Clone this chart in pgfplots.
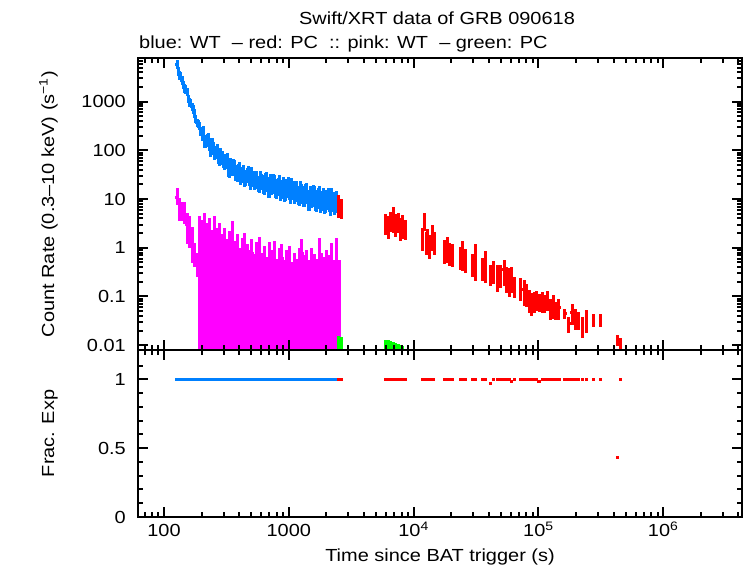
\documentclass[border=0pt]{standalone}
\usepackage{pgfplots}
\pgfplotsset{compat=1.18}
\usepackage{pgfplotstable}
\usepackage{fontspec}
\setmainfont{Liberation Sans}[FakeStretch=1.14]

\definecolor{wtblue}{RGB}{0,128,255}
\definecolor{pcred}{RGB}{255,0,0}
\definecolor{wtpink}{RGB}{255,0,255}
\definecolor{pcgreen}{RGB}{0,255,0}

% WT source light curve: time, rate, relative half bin, relative error, exposure fraction
\pgfplotstableread{
t r dx dy f
127.4 5888 0.03 0.20 1
130.3 4305 0.03 0.20 1
133.4 3491 0.03 0.20 1
136.5 3443 0.03 0.20 1
139.6 2754 0.03 0.20 1
142.9 2265 0.03 0.20 1
146.2 1928 0.03 0.20 1
149.6 1803 0.03 0.20 1
153.1 1611 0.03 0.20 1
156.7 1159 0.03 0.20 1
160.3 988.6 0.03 0.20 1
164.1 955 0.03 0.20 1
167.9 792.5 0.03 0.20 1
171.8 711 0.03 0.20 1
175.8 588.8 0.03 0.20 1
179.9 452 0.03 0.20 1
184.1 375.8 0.03 0.20 1
188.4 352 0.03 0.20 1
192.8 325.8 0.03 0.20 1
197.2 252 0.03 0.20 1
201.8 228.0 0.03 0.30 1
206.5 239 0.03 0.30 1
211.3 162.2 0.03 0.30 1
216.3 161 0.03 0.30 1
221.3 167.1 0.03 0.30 1
226.5 177 0.03 0.30 1
231.7 138.0 0.03 0.30 1
237.1 107 0.03 0.30 1
242.7 138.0 0.03 0.30 1
248.3 113 0.03 0.30 1
254.1 92.3 0.03 0.30 1
260.0 96.8 0.03 0.30 1
266.1 104.0 0.03 0.30 1
272.3 76.4 0.03 0.30 1
278.6 69.0 0.03 0.30 1
285.1 87.5 0.03 0.30 1
291.7 73.1 0.03 0.30 1
298.5 62.8 0.03 0.30 1
305.5 57.8 0.03 0.30 1
312.6 64.1 0.03 0.30 1
319.9 64.7 0.03 0.36 1
327.3 43.6 0.03 0.36 1
335.0 41.4 0.03 0.36 1
342.8 50.8 0.03 0.36 1
350.8 46.2 0.03 0.36 1
358.9 49.9 0.03 0.36 1
367.3 45.8 0.03 0.36 1
375.8 36.8 0.03 0.36 1
384.6 34.8 0.03 0.36 1
393.6 38.6 0.03 0.36 1
402.7 41.9 0.03 0.36 1
412.1 30.8 0.03 0.36 1
421.7 32.8 0.03 0.36 1
431.5 37.4 0.03 0.36 1
441.6 27.5 0.03 0.36 1
451.9 29.4 0.03 0.36 1
462.4 32.7 0.03 0.36 1
473.2 35.6 0.03 0.36 1
484.2 28.8 0.03 0.36 1
495.5 23.9 0.03 0.36 1
507.0 33.0 0.03 0.36 1
518.8 28.1 0.03 0.36 1
530.9 23.8 0.03 0.36 1
543.3 25.5 0.03 0.36 1
555.9 27.9 0.03 0.36 1
568.9 21.7 0.03 0.36 1
582.1 20.7 0.03 0.36 1
595.7 27.5 0.03 0.36 1
609.5 24.2 0.03 0.36 1
623.7 21.8 0.03 0.42 1
638.3 21.1 0.03 0.42 1
653.1 24.5 0.03 0.42 1
668.3 25.9 0.03 0.42 1
683.9 18.1 0.03 0.42 1
699.8 17.9 0.03 0.42 1
716.1 22.7 0.03 0.42 1
732.8 21.3 0.03 0.42 1
749.9 23.6 0.03 0.42 1
767.4 22.1 0.03 0.42 1
785.2 18.0 0.03 0.42 1
803.5 17.3 0.03 0.42 1
822.2 19.5 0.03 0.42 1
841.4 21.5 0.03 0.42 1
861.0 16.0 0.03 0.42 1
881.0 17.3 0.03 0.42 1
901.6 20.0 0.03 0.42 1
922.6 14.9 0.03 0.42 1
944.1 16.0 0.03 0.42 1
966.1 18.0 0.03 0.42 1
988.6 19.9 0.03 0.42 1
1012 16.3 0.03 0.42 1
1035 13.6 0.03 0.42 1
1059 18.9 0.03 0.42 1
1084 16.2 0.03 0.42 1
1109 13.8 0.03 0.42 1
1135 14.9 0.03 0.42 1
1161 16.4 0.03 0.42 1
1189 12.8 0.03 0.42 1
1216 12.3 0.03 0.42 1
1245 16.3 0.03 0.42 1
1274 14.3 0.03 0.45 1
1303 12.8 0.03 0.45 1
1334 12.3 0.03 0.45 1
1365 14.2 0.03 0.45 1
1396 14.9 0.03 0.45 1
1429 10.4 0.03 0.45 1
1462 10.2 0.03 0.45 1
1496 12.9 0.03 0.45 1
1531 12.1 0.03 0.45 1
1567 13.5 0.03 0.45 1
1603 12.8 0.03 0.45 1
1641 10.5 0.03 0.45 1
1679 10.1 0.03 0.45 1
1718 11.5 0.03 0.45 1
1758 12.8 0.03 0.45 1
1799 9.53 0.03 0.45 1
1841 10.3 0.03 0.45 1
1884 11.9 0.03 0.45 1
1928 8.83 0.03 0.45 1
1972 9.53 0.03 0.45 1
2018 10.7 0.03 0.45 1
2065 11.9 0.03 0.45 1
2113 9.68 0.03 0.45 1
2163 8.15 0.03 0.45 1
2213 11.4 0.03 0.45 1
2265 9.82 0.03 0.45 1
2317 8.47 0.03 0.45 1
2371 9.20 0.03 0.45 1
2427 10.2 0.03 0.45 1
}\wtsrc

% PC source light curve
\pgfplotstableread{
t r dx dy f
2512 8.2 0.03 0.5 1
2642 7.0 0.03 0.45 1
5957 3.4 0.03 0.45 1
6237 3.0 0.03 0.5 1
6531 3.8 0.03 0.45 1
6839 4.4 0.03 0.55 1
7161 3.3 0.03 0.5 1
7499 3.6 0.03 0.45 1
7852 2.7 0.03 0.5 1
8222 3.1 0.03 0.5 1
8610 2.6 0.03 0.45 1
11750 1.7 0.02 0.5 1
12160 3.7 0.02 0.4 1
12590 1.4 0.02 0.5 1
13030 1.6 0.02 0.5 1
13490 1.2 0.02 0.5 1
14130 1.9 0.025 0.55 1
14620 1.4 0.02 0.5 1
17780 0.95 0.03 0.5 1
18620 1.1 0.03 0.55 1
19500 0.85 0.03 0.5 1
20420 0.8 0.03 0.5 1
23710 0.7 0.03 0.5 1
24830 0.85 0.03 0.6 1
26000 0.62 0.03 0.5 1
29510 0.5 0.03 0.5 1
31260 0.7 0.03 0.7 1
35480 0.42 0.03 0.5 1
37580 0.53 0.03 0.65 1
41210 0.3 0.03 0.45 0.97
43650 0.36 0.03 0.5 1
46770 0.28 0.03 0.55 1
49550 0.3 0.03 0.5 1
53090 0.36 0.03 0.55 1
55590 0.26 0.03 0.55 1
58210 0.24 0.03 0.6 1
60950 0.26 0.03 0.55 0.985
64570 0.17 0.03 0.45 1
71610 0.16 0.03 0.5 1
76740 0.14 0.03 0.55 1
80350 0.12 0.03 0.5 1
84140 0.09 0.03 0.5 1
88100 0.08 0.03 0.5 1
92260 0.085 0.03 0.45 1
96610 0.09 0.03 0.45 1
101200 0.08 0.03 0.4 0.985
107200 0.085 0.03 0.45 1
112200 0.075 0.03 0.4 1
117500 0.09 0.03 0.45 1
125900 0.06 0.03 0.45 1
131800 0.07 0.03 0.5 1
138000 0.055 0.03 0.4 1
146200 0.06 0.03 0.45 1
163300 0.045 0.03 0.25 1
175800 0.028 0.03 0.35 1
186200 0.048 0.03 0.45 1
197200 0.038 0.03 0.45 1
208900 0.035 0.03 0.4 1
226500 0.026 0.03 0.45 1
242700 0.036 0.03 0.5 1
275400 0.033 0.025 0.3 1
312600 0.033 0.025 0.3 1
430500 0.0128 0.025 0.25 0.43
455000 0.009 0.025 0.55 1
}\pcsrc

% WT background: time, rate, relative half bin, relative upper and lower errors
\pgfplotstableread{
t r dx ep em
127.4 11 0.03 0.5 0.32
133.4 6.5 0.03 0.6 0.45
139.6 6.5 0.03 0.35 0.45
146.2 5.5 0.03 0.6 0.45
153.1 3.0 0.03 0.7 0.6
160.3 2.5 0.03 0.8 0.6
167.9 1.2 0.03 1.2 0.6
175.8 0.8 0.03 0.6 0.5
184.1 0.5 0.03 0.6 0.5
192.8 2.2 0.03 1 0.999
201.8 1.85 0.03 1 0.999
211.3 2.55 0.03 1 0.999
221.3 1.6 0.03 1 0.999
231.7 2.0 0.03 1 0.999
242.7 1.15 0.03 1 0.999
254.1 2.2 0.03 1 0.999
266.1 1.25 0.03 1 0.999
278.6 1.6 0.03 1 0.999
291.7 0.95 0.03 1 0.999
305.5 1.3 0.03 1 0.999
319.9 0.75 0.03 1 0.999
335.0 1.1 0.03 1 0.999
350.8 1.75 0.03 1 0.999
367.3 0.7 0.03 1 0.999
384.6 0.95 0.03 1 0.999
402.7 0.5 0.03 1 0.999
421.7 0.8 0.03 1 0.999
441.6 1.0 0.03 1 0.999
462.4 0.6 0.03 1 0.999
484.2 0.45 0.03 1 0.999
507.0 0.75 0.03 1 0.999
530.9 0.375 0.03 1 0.999
555.9 0.65 0.03 1 0.999
582.1 0.85 0.03 1 0.999
609.5 0.4 0.03 1 0.999
638.3 0.55 0.03 1 0.999
668.3 0.325 0.03 1 0.999
699.8 0.65 0.03 1 0.999
732.8 0.45 0.03 1 0.999
767.4 0.7 0.03 1 0.999
803.5 0.3 0.03 1 0.999
841.4 0.5 0.03 1 0.999
881.0 0.6 0.03 1 0.999
922.6 0.275 0.03 1 0.999
966.1 0.45 0.03 1 0.999
1012 0.55 0.03 1 0.999
1059 0.25 0.03 1 0.999
1109 0.4 0.03 1 0.999
1161 0.3 0.03 1 0.999
1216 0.5 0.03 1 0.999
1274 0.775 0.03 1 0.999
1334 0.35 0.03 1 0.999
1396 0.45 0.03 1 0.999
1462 0.275 0.03 1 0.999
1531 0.5 0.03 1 0.999
1603 0.375 0.03 1 0.999
1679 0.3 0.03 1 0.999
1758 0.8 0.03 1 0.999
1841 0.4 0.03 1 0.999
1928 0.325 0.03 1 0.999
2018 0.45 0.03 1 0.999
2113 0.35 0.03 1 0.999
2213 0.625 0.03 1 0.999
2317 0.275 0.03 1 0.999
2427 0.8 0.03 1 0.999
2541 0.275 0.03 1 0.999
}\wtbkg

% PC background
\pgfplotstableread{
t r dx ep em
2512 0.0078 0.03 1 0.95
2642 0.0072 0.03 1 0.95
5957 0.0063 0.03 1 0.95
6237 0.0064 0.03 1 0.95
6531 0.0062 0.03 1 0.95
6839 0.0058 0.03 1 0.95
7161 0.0056 0.03 1 0.95
7499 0.0053 0.03 1 0.95
7852 0.0050 0.03 1 0.95
8222 0.0048 0.03 1 0.95
}\pcbkg

% data points are shown by their error bars alone, no markers
\pgfplotsset{
  rateerr/.style={draw=none, mark=none,
    error bars/x dir=both, error bars/x explicit relative,
    error bars/y dir=both, error bars/y explicit relative,
    error bars/error mark=none,
    error bars/error bar style={draw=#1, line width=3pt}},
  fexp/.style={draw=none, mark=none,
    error bars/x dir=both, error bars/x explicit relative,
    error bars/error mark=none,
    error bars/error bar style={draw=#1, line width=2.7pt}},
}

\begin{document}
\fontsize{17.5}{21}\selectfont
\begin{tikzpicture}
\useasboundingbox (0pt,0pt) rectangle (746pt,568pt);

% count rate panel
\begin{axis}[scale only axis, width=604pt, height=292pt,
  at={(138pt,218pt)}, anchor=south west,
  xmode=log, xmin=61.9, xmax=4.28e6,
  ymode=log, ymin=0.00797, ymax=7890,
  axis on top,
  axis line style={line width=2.5pt},
  tick style={line width=2pt, black},
  major tick length=10pt, minor tick length=5pt,
  xtick={100,1000,10000,100000,1000000},
  minor xtick={70,80,90,200,300,400,500,600,700,800,900,
    2000,3000,4000,5000,6000,7000,8000,9000,
    20000,30000,40000,50000,60000,70000,80000,90000,
    200000,300000,400000,500000,600000,700000,800000,900000,
    2000000,3000000,4000000},
  xticklabels={},
  ytick={0.01,0.1,1,10,100,1000},
  yticklabels={0.01,0.1,1,10,100,1000},
  minor ytick={0.02,0.03,0.04,0.05,0.06,0.07,0.08,0.09,
    0.2,0.3,0.4,0.5,0.6,0.7,0.8,0.9,2,3,4,5,6,7,8,9,
    20,30,40,50,60,70,80,90,200,300,400,500,600,700,800,900,
    2000,3000,4000,5000,6000,7000},
  yticklabel style={anchor=east, inner sep=0pt, xshift=-12pt},
]
\addplot[rateerr=wtblue] table[x=t, y=r, x error=dx, y error=dy] {\wtsrc};
\addplot[rateerr=pcred] table[x=t, y=r, x error=dx, y error=dy] {\pcsrc};
\addplot[rateerr=wtpink] table[x=t, y=r, x error=dx, y error plus=ep, y error minus=em] {\wtbkg};
\addplot[rateerr=pcgreen] table[x=t, y=r, x error=dx, y error plus=ep, y error minus=em] {\pcbkg};
\end{axis}

% exposure fraction panel
\begin{axis}[scale only axis, width=604pt, height=167pt,
  at={(138pt,51pt)}, anchor=south west,
  xmode=log, xmin=61.9, xmax=4.28e6,
  ymin=0, ymax=1.213,
  axis on top,
  axis line style={line width=2.5pt},
  tick style={line width=2pt, black},
  major tick length=10pt, minor tick length=5pt,
  xtick={100,1000,10000,100000,1000000},
  minor xtick={70,80,90,200,300,400,500,600,700,800,900,
    2000,3000,4000,5000,6000,7000,8000,9000,
    20000,30000,40000,50000,60000,70000,80000,90000,
    200000,300000,400000,500000,600000,700000,800000,900000,
    2000000,3000000,4000000},
  xticklabels={100,1000,10\textsuperscript{4},10\textsuperscript{5},10\textsuperscript{6}},
  xticklabel style={anchor=base, inner sep=0pt, yshift=-19.7pt},
  ytick={0,0.5,1}, yticklabels={0,0.5,1},
  minor ytick={0.1,0.2,0.3,0.4,0.6,0.7,0.8,0.9,1.1},
  yticklabel style={anchor=east, inner sep=0pt, xshift=-12pt},
]
\addplot[fexp=wtblue] table[x=t, y=f, x error=dx] {\wtsrc};
\addplot[fexp=pcred] table[x=t, y=f, x error=dx] {\pcsrc};
\end{axis}

\node[anchor=base, inner sep=0pt] at (437pt,543pt) {Swift/XRT data of GRB 090618};
\node[anchor=base west, inner sep=0pt] at (139pt,519.5pt) {blue: WT\ \ – red: PC\ \ :: pink: WT\ \ – green: PC};
\node[rotate=90, anchor=base, inner sep=0pt] at (54pt,363.8pt) {Count Rate (0.3–10 keV) (s\textsuperscript{−1})};
\node[rotate=90, anchor=base, inner sep=0pt] at (54pt,134.5pt) {Frac. Exp};
\node[anchor=base, inner sep=0pt] at (440pt,6.5pt) {Time since BAT trigger (s)};
\end{tikzpicture}
\end{document}
